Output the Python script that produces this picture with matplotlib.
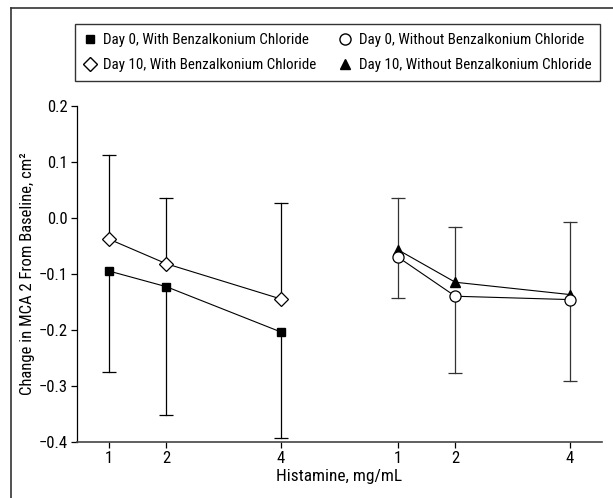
import numpy as np
import matplotlib
matplotlib.use('Agg')
import matplotlib.pyplot as plt
from matplotlib.lines import Line2D

plt.rcParams['font.family'] = ['Roboto Condensed', 'DejaVu Sans']
plt.rcParams['font.size'] = 10

# data
doses = [1, 2, 4]
tick_labels = ['1', '2', '4']

day0_with = [-0.095, -0.123, -0.204]
day0_with_low = [-0.276, -0.352, -0.393]
day10_with = [-0.038, -0.082, -0.145]
day10_with_high = [0.113, 0.036, 0.026]

day0_without = [-0.070, -0.140, -0.146]
day0_without_low = [-0.143, -0.278, -0.291]
day10_without = [-0.057, -0.115, -0.137]
day10_without_high = [0.036, -0.016, -0.007]

labels = ['Day 0, With Benzalkonium Chloride', 'Day 10, With Benzalkonium Chloride',
          'Day 0, Without Benzalkonium Chloride', 'Day 10, Without Benzalkonium Chloride']
xlabel = 'Histamine, mg/mL'
ylabel = 'Change in MCA 2 From Baseline, cm²'

offset = 5.04
xl = np.array(doses, dtype=float)
xr = xl + offset

fig = plt.figure(figsize=(6.13, 4.98), dpi=100)
renderer = fig.canvas.get_renderer()

def fit_size(s, target_px):
    t = fig.text(0, 0, s, fontsize=10)
    w = t.get_window_extent(renderer).width
    t.remove()
    return 10 * target_px / w

leg_size = fit_size(labels[0], 204)
tick_size = fit_size('\u22120.4', 29)
xlab_size = fit_size(xlabel, 125)
ylab_size = fit_size(ylabel, 241)

ax = fig.add_axes([77/613, 1-441.7/498, (602-77)/613, (441.7-106)/498])

def bars(x, ends, color):
    for xi, yi, ei in zip(x, ends[0], ends[1]):
        ax.plot([xi, xi], [yi, ei], color=color, lw=0.9, zorder=1)
    ax.plot(x, ends[1], ls='none', marker='_', ms=9.5, mew=0.9, color=color, zorder=1)

bars(xl, (day0_with, day0_with_low), 'k')
bars(xl, (day10_with, day10_with_high), 'k')
bars(xr, (day0_without, day0_without_low), '#333333')
bars(xr, (day10_without, day10_without_high), '#333333')

ax.plot(xl, day0_with, '-', color='k', lw=0.8, marker='s', ms=6, mfc='k', mec='k', zorder=3)
ax.plot(xl, day10_with, '-', color='k', lw=0.8, marker='D', ms=7.5, mfc='white', mec='k', mew=0.9, zorder=3)
ax.plot(xr, day10_without, '-', color='k', lw=0.8, marker='^', ms=7, mfc='k', mec='k', zorder=3)
ax.plot(xr, day0_without, '-', color='k', lw=0.8, marker='o', ms=8, mfc='white', mec='k', mew=0.9, zorder=4)

ax.set_xlim(0.44, 9.6)
ax.set_ylim(-0.4, 0.2)
ax.set_yticks(np.arange(-0.4, 0.21, 0.1))
ax.set_xticks(list(xl) + list(xr))
ax.set_xticklabels(tick_labels + tick_labels)
ax.spines['top'].set_visible(False)
ax.spines['right'].set_visible(False)
ax.spines['bottom'].set_color('#444444')
ax.spines['bottom'].set_linewidth(1.2)
ax.spines['left'].set_linewidth(0.9)
ax.tick_params(direction='out', length=4, width=0.9, pad=2.5, labelsize=tick_size)
ax.set_xlabel(xlabel, labelpad=2, fontsize=xlab_size)
ax.set_ylabel(ylabel, labelpad=3, fontsize=ylab_size)

handles = [
    Line2D([], [], ls='none', marker='s', ms=6, mfc='k', mec='k'),
    Line2D([], [], ls='none', marker='D', ms=7.5, mfc='white', mec='k'),
    Line2D([], [], ls='none', marker='o', ms=8, mfc='white', mec='k'),
    Line2D([], [], ls='none', marker='^', ms=7, mfc='k', mec='k'),
]
leg = fig.legend(handles, labels, ncol=2, loc='center', bbox_to_anchor=(337.5/613, 1-52.5/498),
                 frameon=True, fancybox=False, edgecolor='k', fontsize=leg_size,
                 handlelength=0.8, handletextpad=0.5, columnspacing=1.5,
                 labelspacing=0.75, borderpad=0.6)
leg.get_frame().set_linewidth(1.0)

# outer frame lines (left and top)
fig.add_artist(Line2D([11/613, 11/613], [0, 1-8/498], color='#333333', lw=1.2))
fig.add_artist(Line2D([11/613, 1], [1-8/498, 1-8/498], color='#333333', lw=1.2))

fig.savefig('out.png', dpi=100)
